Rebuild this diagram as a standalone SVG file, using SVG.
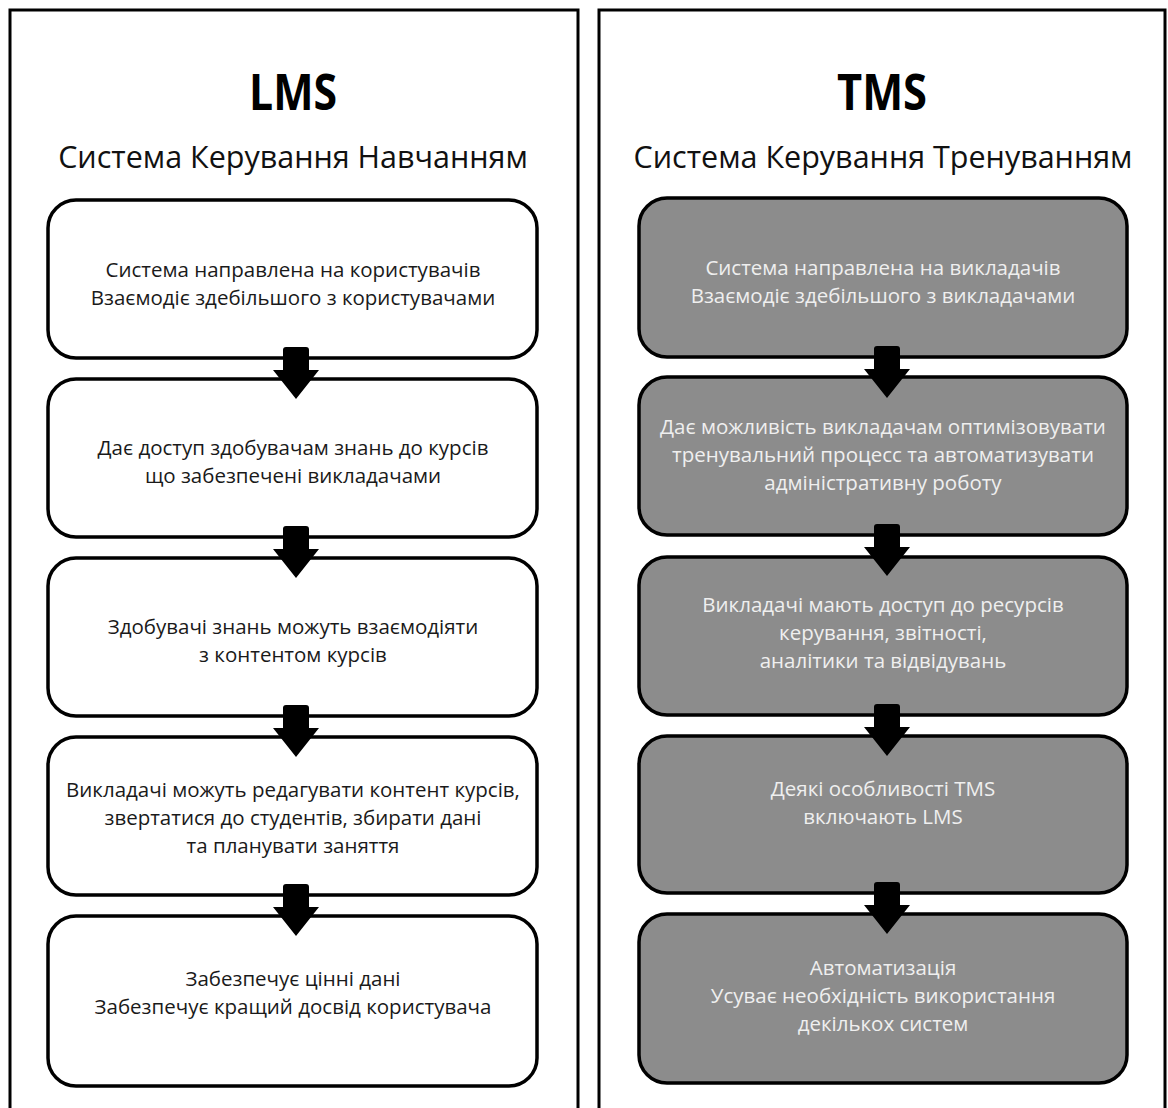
<svg xmlns="http://www.w3.org/2000/svg" xmlns:xlink="http://www.w3.org/1999/xlink" width="1168" height="1108" viewBox="0 0 1168 1108">
  <style>
    .frame { fill: #ffffff; stroke: #000000; stroke-width: 3; }
    .box { stroke: #000000; stroke-width: 3.5; }
    .lms { fill: #ffffff; }
    .tms { fill: #8c8c8c; }
    .title { font-family: "Open Sans", "Noto Sans", sans-serif; font-weight: 700; font-size: 51px; text-anchor: middle; fill: #000000; }
    .sub { font-family: "Open Sans", "Noto Sans", sans-serif; font-size: 30.5px; text-anchor: middle; fill: #111111; }
    .txt { font-family: "Open Sans", "Noto Sans", sans-serif; font-size: 20.5px; text-anchor: middle; }
    .dark { fill: #1a1a1a; }
    .light { fill: #efefef; }
    .arrow { fill: #000000; }
  </style>
  <defs>
    <!-- down arrow: origin at the bottom edge of the upper box, centred -->
    <path id="down" class="arrow" d="M -13 -8 Q -13 -11 -10 -11 L 10 -11 Q 13 -11 13 -8 L 13 12 L 23 12 L 0 41 L -23 12 L -13 12 Z"/>
  </defs>

  <rect x="0" y="0" width="1168" height="1108" fill="#ffffff"/>

  <!-- panel frames (open at the bottom edge) -->
  <g id="frame-lms"><rect class="frame" x="10" y="10" width="568" height="1110"/></g>
  <g id="frame-tms"><rect class="frame" x="599" y="10" width="566" height="1110"/></g>

  <!-- headings -->
  <g id="head-lms">
    <text class="title" x="293" y="110" textLength="88" lengthAdjust="spacingAndGlyphs">LMS</text>
    <text class="sub" x="293" y="168">Система Керування Навчанням</text>
  </g>
  <g id="head-tms">
    <text class="title" x="882" y="110" textLength="90" lengthAdjust="spacingAndGlyphs">TMS</text>
    <text class="sub" x="883" y="168">Система Керування Тренуванням</text>
  </g>

  <!-- LMS steps -->
  <g id="lms-1">
    <rect class="box lms" x="48" y="200" width="489" height="158" rx="28"/>
    <text class="txt dark" x="293" y="277">Система направлена на користувачів</text>
    <text class="txt dark" x="293" y="305">Взаємодіє здебільшого з користувачами</text>
  </g>
  <g id="lms-2">
    <rect class="box lms" x="48" y="379" width="489" height="158" rx="28"/>
    <text class="txt dark" x="293" y="455">Дає доступ здобувачам знань до курсів</text>
    <text class="txt dark" x="293" y="483">що забезпечені викладачами</text>
  </g>
  <g id="lms-3">
    <rect class="box lms" x="48" y="558" width="489" height="158" rx="28"/>
    <text class="txt dark" x="293" y="634">Здобувачі знань можуть взаємодіяти</text>
    <text class="txt dark" x="293" y="662">з контентом курсів</text>
  </g>
  <g id="lms-4">
    <rect class="box lms" x="48" y="737" width="489" height="158" rx="28"/>
    <text class="txt dark" x="293" y="797">Викладачі можуть редагувати контент курсів,</text>
    <text class="txt dark" x="293" y="825">звертатися до студентів, збирати дані</text>
    <text class="txt dark" x="293" y="853">та планувати заняття</text>
  </g>
  <g id="lms-5">
    <rect class="box lms" x="48" y="916" width="489" height="170" rx="28"/>
    <text class="txt dark" x="293" y="986">Забезпечує цінні дані</text>
    <text class="txt dark" x="293" y="1014">Забезпечує кращий досвід користувача</text>
  </g>

  <!-- TMS steps -->
  <g id="tms-1">
    <rect class="box tms" x="639" y="198" width="488" height="159" rx="28"/>
    <text class="txt light" x="883" y="275">Система направлена на викладачів</text>
    <text class="txt light" x="883" y="303">Взаємодіє здебільшого з викладачами</text>
  </g>
  <g id="tms-2">
    <rect class="box tms" x="639" y="377" width="488" height="158" rx="28"/>
    <text class="txt light" x="883" y="434">Дає можливість викладачам оптимізовувати</text>
    <text class="txt light" x="883" y="462">тренувальний процесс та автоматизувати</text>
    <text class="txt light" x="883" y="490">адміністративну роботу</text>
  </g>
  <g id="tms-3">
    <rect class="box tms" x="639" y="557" width="488" height="158" rx="28"/>
    <text class="txt light" x="883" y="612">Викладачі мають доступ до ресурсів</text>
    <text class="txt light" x="883" y="640">керування, звітності,</text>
    <text class="txt light" x="883" y="668">аналітики та відвідувань</text>
  </g>
  <g id="tms-4">
    <rect class="box tms" x="639" y="736" width="488" height="157" rx="28"/>
    <text class="txt light" x="883" y="796">Деякі особливості TMS</text>
    <text class="txt light" x="883" y="824">включають LMS</text>
  </g>
  <g id="tms-5">
    <rect class="box tms" x="639" y="914" width="488" height="169" rx="28"/>
    <text class="txt light" x="883" y="975">Автоматизація</text>
    <text class="txt light" x="883" y="1003">Усуває необхідність використання</text>
    <text class="txt light" x="883" y="1031">декількох систем</text>
  </g>

  <!-- connectors -->
  <g id="connectors">
    <use xlink:href="#down" x="296" y="358"/>
    <use xlink:href="#down" x="296" y="537"/>
    <use xlink:href="#down" x="296" y="716"/>
    <use xlink:href="#down" x="296" y="895"/>
    <use xlink:href="#down" x="887" y="357"/>
    <use xlink:href="#down" x="887" y="535"/>
    <use xlink:href="#down" x="887" y="715"/>
    <use xlink:href="#down" x="887" y="893"/>
  </g>
</svg>
